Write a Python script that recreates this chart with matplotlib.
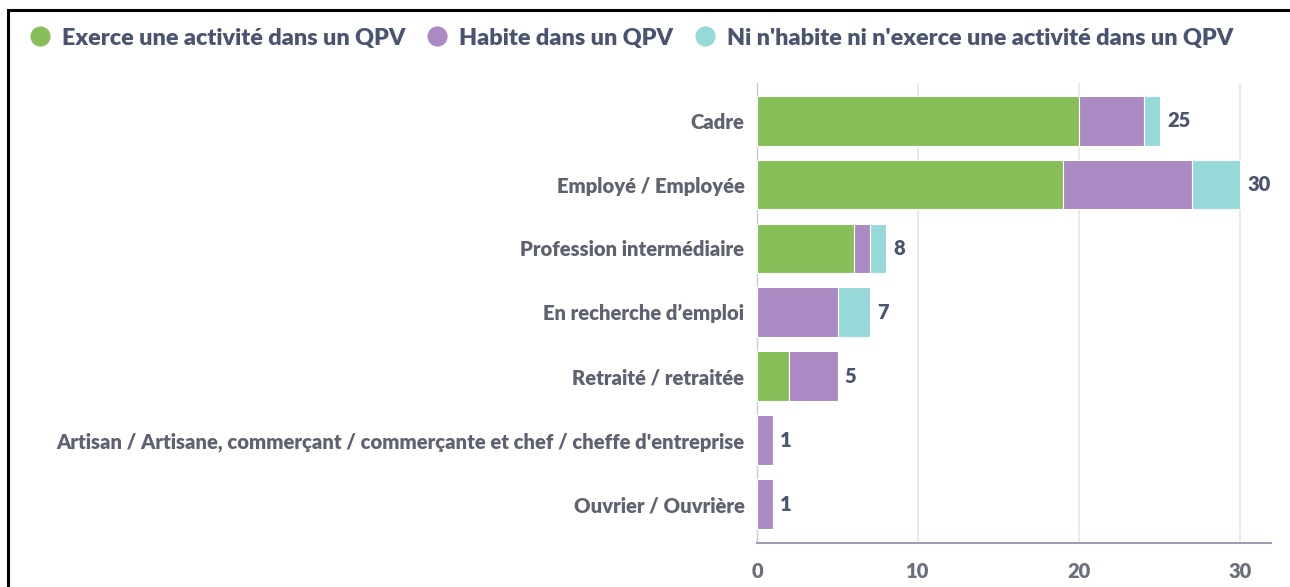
import matplotlib.pyplot as plt
from matplotlib.lines import Line2D
from matplotlib.patches import Rectangle
import numpy as np

plt.rcParams['font.family'] = ['Lato', 'DejaVu Sans']

categories = [
    "Cadre",
    "Employé / Employée",
    "Profession intermédiaire",
    "En recherche d’emploi",
    "Retraité / retraitée",
    "Artisan / Artisane, commerçant / commerçante et chef / cheffe d'entreprise",
    "Ouvrier / Ouvrière",
]
series_names = [
    "Exerce une activité dans un QPV",
    "Habite dans un QPV",
    "Ni n'habite ni n'exerce une activité dans un QPV",
]
exerce = [20, 19, 6, 0, 2, 0, 0]
habite = [4, 8, 1, 5, 3, 1, 1]
ni_ni = [1, 3, 1, 2, 0, 0, 0]
x_ticks = [0, 10, 20, 30]

colors = ['#88BE57', '#AB89C3', '#97D9D9']
label_col = '#5f6270'
value_col = '#4a5470'

fig = plt.figure(figsize=(12.9, 5.87), dpi=100)
ax = fig.add_axes([0.5868, 0.075, 0.3985, 0.7836])

y = np.arange(len(categories))
left = np.zeros(len(categories))
for vals, c, name in zip([exerce, habite, ni_ni], colors, series_names):
    vals = np.array(vals, dtype=float)
    ax.barh(y, vals, left=left, height=0.78, color=c, edgecolor='white',
            linewidth=0.8, label=name, zorder=3)
    left += vals

# totals at the end of each bar
for yi, tot in zip(y, left):
    ax.text(tot + 0.45, yi, f"{int(tot)}", va='center', ha='left',
            fontsize=14.5, fontweight='heavy', color=value_col)

ax.set_ylim(6.61, -0.59)
ax.set_xlim(0, 31.9)
ax.set_yticks(y)
ax.set_yticklabels(categories, fontsize=14.6, fontweight='heavy', color=label_col)
ax.set_xticks(x_ticks)
ax.set_xticklabels([str(t) for t in x_ticks], fontsize=14.5, fontweight='heavy', color='#6b6f7c')
ax.tick_params(axis='y', length=0, pad=9)
ax.tick_params(axis='x', length=0, pad=14)
ax.grid(axis='x', color='#e6e6e6', linewidth=1.2, zorder=0)
for s in ['top', 'right']:
    ax.spines[s].set_visible(False)
ax.spines['left'].set_color('#c8cad2')
ax.spines['left'].set_linewidth(1)
ax.spines['bottom'].set_color('#9a9eb0')
ax.spines['bottom'].set_linewidth(1.5)

handles = [Line2D([], [], marker='o', linestyle='', markersize=13.5,
                  markerfacecolor=c, markeredgecolor=c) for c in colors]
leg = fig.legend(handles, series_names, loc='center left', bbox_to_anchor=(0.0236, 0.935),
                 ncol=3, frameon=False, handlelength=0.8, handletextpad=0.55,
                 columnspacing=0.95, borderpad=0, borderaxespad=0,
                 prop={'size': 16.8, 'weight': 'heavy'})
for t in leg.get_texts():
    t.set_color(value_col)

# black frame around the screenshot area
fig.patches.append(Rectangle((0.0062, -0.05), 1.2, 1.033, transform=fig.transFigure,
                             fill=False, edgecolor='black', linewidth=2.2))

fig.savefig('out.png', dpi=100)
